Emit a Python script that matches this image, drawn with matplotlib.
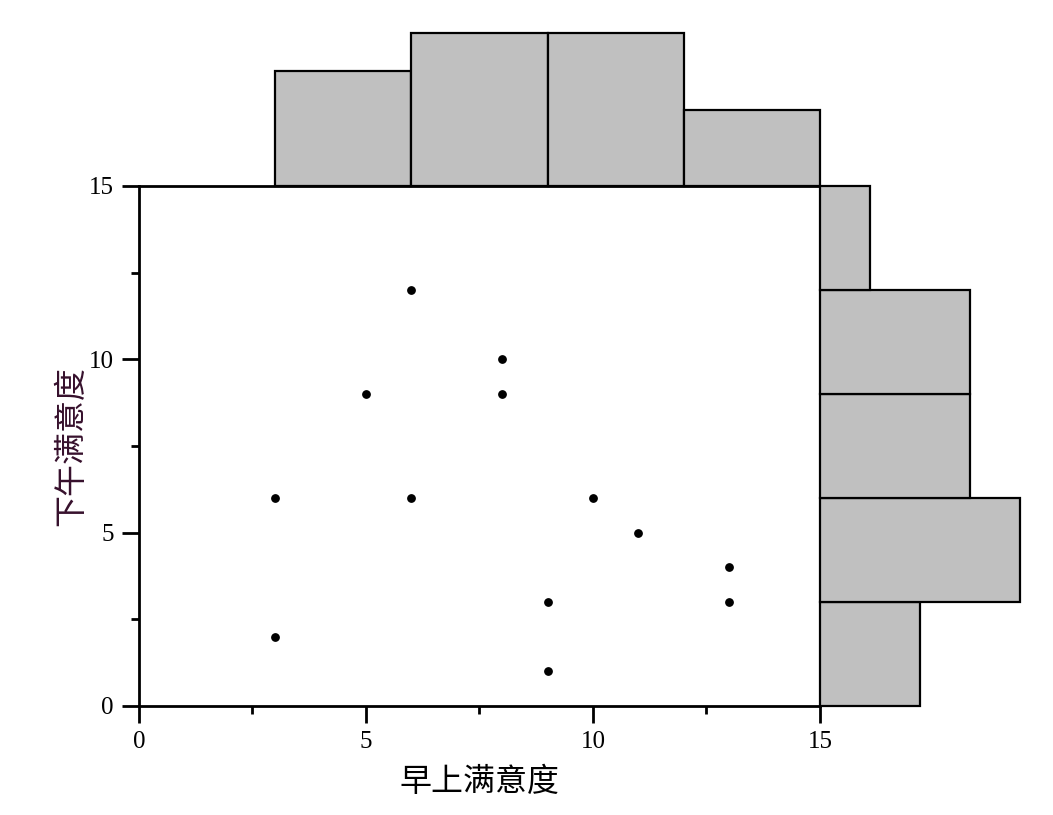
import matplotlib
matplotlib.use("Agg")
import matplotlib.pyplot as plt
from matplotlib.ticker import MultipleLocator

# data
morning = [3, 3, 5, 6, 6, 8, 8, 9, 9, 10, 11, 13, 13]
afternoon = [6, 2, 9, 12, 6, 10, 9, 3, 1, 6, 5, 4, 3]
x_bins = [3, 6, 9, 12, 15]
y_bins = [0, 3, 6, 9, 12, 15]
ticks = [0, 5, 10, 15]
tick_labels = ["0", "5", "10", "15"]
xlabel = "早上满意度"
ylabel = "下午满意度"

plt.rcParams["font.family"] = ["Liberation Serif", "Noto Sans CJK SC"]
plt.rcParams["xtick.labelsize"] = 18
plt.rcParams["ytick.labelsize"] = 18

W, H = 1053, 815
fig = plt.figure(figsize=(W / 100, H / 100), dpi=100)

L, R, T, B = 139, 820, 186, 706
ax = fig.add_axes([L / W, (H - B) / H, (R - L) / W, (B - T) / H])
top_h = (T - 33) / H
axt = fig.add_axes([L / W, (H - T) / H, (R - L) / W, top_h])
axr = fig.add_axes([R / W, (H - B) / H, (1020 - R) / W, (B - T) / H])

lw = 2.0
ax.scatter(morning, afternoon, s=28, color="black", zorder=3, clip_on=False)
ax.set_xlim(0, 15)
ax.set_ylim(0, 15)
ax.set_xticks(ticks)
ax.set_xticklabels(tick_labels)
ax.set_yticks(ticks)
ax.set_yticklabels(tick_labels)
ax.xaxis.set_minor_locator(MultipleLocator(2.5))
ax.yaxis.set_minor_locator(MultipleLocator(2.5))
ax.tick_params(which="major", direction="out", length=12, width=lw, pad=6)
ax.tick_params(which="minor", direction="out", length=6, width=lw)
for side in ["left", "bottom", "top"]:
    ax.spines[side].set_linewidth(lw)
ax.spines["right"].set_visible(False)
ax.set_xlabel(xlabel, fontsize=23, fontfamily=["Noto Sans CJK SC"], labelpad=9)
ax.set_ylabel(ylabel, fontsize=23, fontfamily=["Noto Sans CJK SC"], labelpad=1,
              color="#36102c")

axt.hist(morning, bins=x_bins, color="#c0c0c0", edgecolor="black",
         linewidth=1.6)
axt.set_xlim(0, 15)
axt.set_ylim(0, 4)
axt.axis("off")
for p in axt.patches:
    p.set_clip_on(False)

axr.hist(afternoon, bins=y_bins, orientation="horizontal", color="#c0c0c0",
         edgecolor="black", linewidth=1.6)
axr.set_ylim(0, 15)
axr.set_xlim(0, 4)
axr.axis("off")
for p in axr.patches:
    p.set_clip_on(False)

fig.savefig("out.png", dpi=100)
